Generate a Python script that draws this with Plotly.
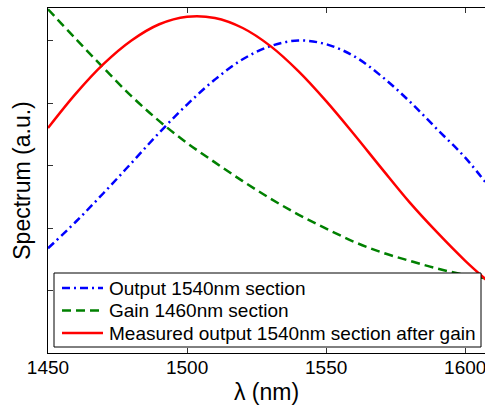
import plotly.graph_objects as go

wavelength = [1450, 1460, 1470, 1480, 1490, 1500, 1510, 1520, 1530, 1540,
              1550, 1560, 1570, 1580, 1590, 1600, 1610]
output_1540 = [0.335, 0.420, 0.512, 0.608, 0.705, 0.795, 0.875, 0.940, 0.982, 1.000,
               0.988, 0.950, 0.885, 0.805, 0.715, 0.625, 0.515]
gain_1460 = [1.100, 1.005, 0.912, 0.822, 0.742, 0.672, 0.610, 0.550, 0.494, 0.443,
             0.398, 0.356, 0.322, 0.295, 0.270, 0.250, 0.235]
measured_after_gain = [0.720, 0.830, 0.925, 1.000, 1.052, 1.076, 1.072, 1.040, 0.982, 0.902,
                       0.806, 0.700, 0.590, 0.482, 0.385, 0.295, 0.215]

names = ["Output 1540nm section", "Gain 1460nm section",
         "Measured output 1540nm section after gain"]
colors = ["rgb(0,0,255)", "rgb(0,128,0)", "rgb(255,0,0)"]
dashes = ["8px,4px,2px,4px", "9px,5px", "solid"]
x_ticks = [1450, 1500, 1550, 1600]
y_ticks = [0.2, 0.4, 0.6, 0.8, 1.0]

font_family = "Liberation Sans, Arial, sans-serif"

fig = go.Figure()
for series, name, color, dash in zip([output_1540, gain_1460, measured_after_gain], names, colors, dashes):
    fig.add_trace(go.Scatter(x=wavelength, y=series, mode="lines", name=name, showlegend=False,
                             line=dict(color=color, width=2.5, dash=dash, shape="spline")))

# legend box drawn in plot-area (paper) coordinates
L, T, W, H = 48, 8, 437, 345
def px(xp):
    return (xp - L) / W
def py(yp):
    return (T + H - yp) / H

shapes = [dict(type="rect", xref="paper", yref="paper", layer="above",
               x0=px(54), x1=px(481), y0=py(347), y1=py(273),
               fillcolor="white", line=dict(color="black", width=1))]
annotations = []
row_y = [288, 310.5, 333]
for name, color, dash, ry in zip(names, colors, dashes, row_y):
    shapes.append(dict(type="line", xref="paper", yref="paper", layer="above",
                       x0=px(62), x1=px(103), y0=py(ry), y1=py(ry),
                       line=dict(color=color, width=2.5, dash=dash)))
    annotations.append(dict(text=name, xref="paper", yref="paper", x=px(107), y=py(ry),
                            xanchor="left", yanchor="middle", showarrow=False,
                            font=dict(size=19, family=font_family, color="black")))

fig.update_layout(
    width=485, height=408,
    margin=dict(l=48, r=0, t=8, b=55),
    paper_bgcolor="white", plot_bgcolor="white",
    font=dict(family=font_family, color="black", size=19),
    showlegend=False,
    shapes=shapes, annotations=annotations,
    xaxis=dict(range=[1450, 1607.1], tickvals=x_ticks, ticks="inside", ticklen=5,
               tickcolor="#333", showline=True, linecolor="black", linewidth=1,
               mirror="ticks", showgrid=False, zeroline=False, automargin=False,
               tickfont=dict(size=19), ticklabelstandoff=-3, ticklabeloverflow="allow",
               title=dict(text="λ (nm)", font=dict(size=23), standoff=7)),
    yaxis=dict(range=[0, 1.104], tickvals=y_ticks, ticks="inside", ticklen=5,
               tickcolor="#333", showline=True, linecolor="black", linewidth=1,
               mirror=False, showgrid=False, zeroline=False, showticklabels=False,
               automargin=False,
               title=dict(text="Spectrum (a.u.)", font=dict(size=23), standoff=9)),
)
fig.write_html("out.html", config={"displayModeBar": False},
               post_script="document.body.style.margin='0';")
